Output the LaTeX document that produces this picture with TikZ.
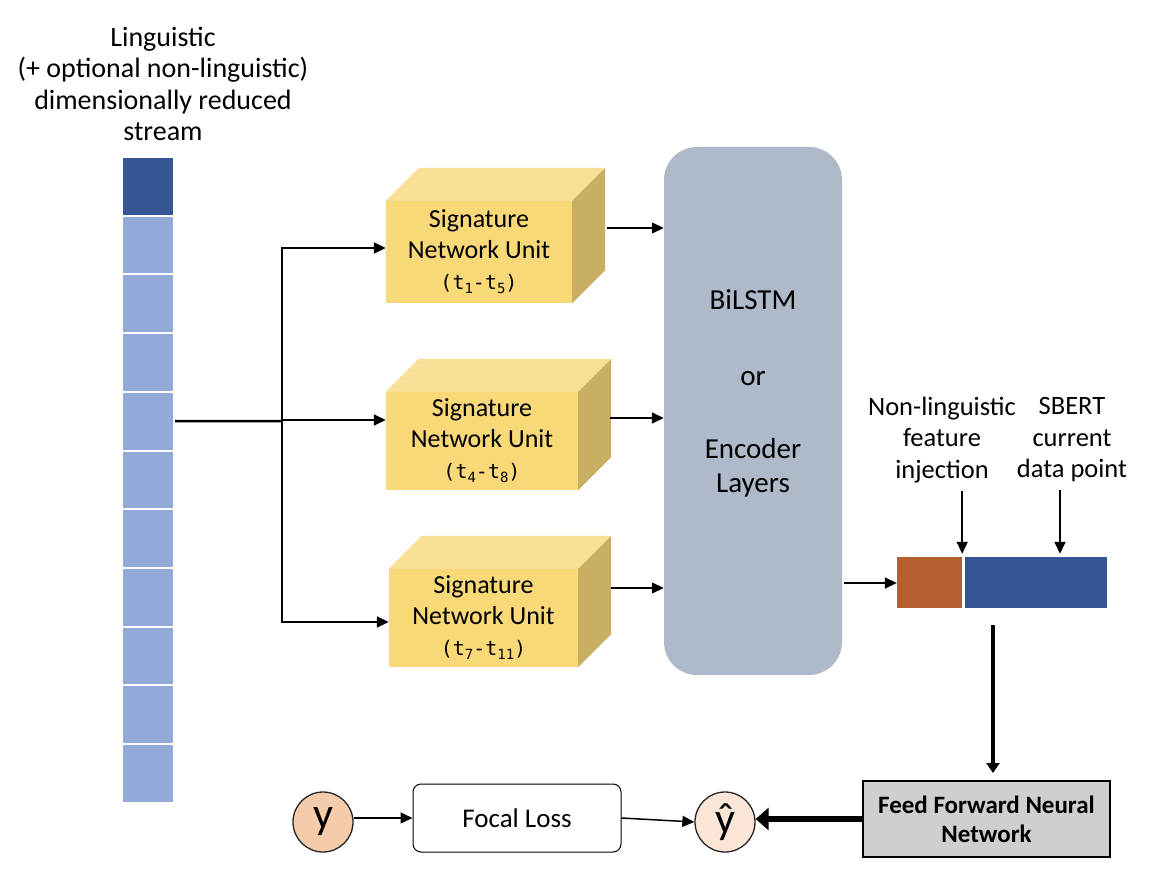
\documentclass[tikz,border=0pt]{standalone}
\usepackage{fontspec}
\setmainfont{Carlito}
\newfontfamily\monof{DejaVu Sans Mono}
\usetikzlibrary{arrows.meta}
\definecolor{celldark}{HTML}{375592}
\definecolor{celllight}{HTML}{94ABD9}
\definecolor{cubefront}{HTML}{F9D878}
\definecolor{cubetop}{HTML}{F9E097}
\definecolor{cubeside}{HTML}{C9AF62}
\definecolor{bilstm}{HTML}{AEB9CA}
\definecolor{nlorange}{HTML}{B65F2E}
\definecolor{sbblue}{HTML}{375592}
\definecolor{ycol}{HTML}{F6CBAA}
\definecolor{yhcol}{HTML}{FBE5D6}
\definecolor{ffgray}{HTML}{D0CECE}
\newcommand\fs[2]{\fontsize{#1}{#2}\selectfont}
\newcommand\subd[1]{\raisebox{-4pt}{\fs{14}{14}#1}}
\newcommand\tr[2]{{\monof\fs{20}{31}(t\subd{#1}-t\subd{#2})}}
\newcommand\cubefaces[1]{%
  \fill[cubetop] (#1.north west) -- ++(33,-33) -- ([shift={(33,-33)}]#1.north east) -- (#1.north east) -- cycle;
  \fill[cubeside] (#1.north east) -- ++(33,-33) -- ([shift={(33,-33)}]#1.south east) -- (#1.south east) -- cycle;}
\begin{document}
\begin{tikzpicture}[x=1pt,y=-1pt,
  cell/.style={minimum width=50pt, minimum height=56.7pt, inner sep=0pt, draw=none},
  sigbox/.style={fill=cubefront, inner sep=0pt, align=center, font=\fs{26}{31}},
  txt/.style={align=center, inner sep=0pt, font=\fs{26.5}{31.5}},
  arr/.style={-{Triangle[length=12pt,width=11pt]}, line width=1.5pt},
  thkarr/.style={-{Triangle[length=10pt,width=13pt]}, line width=3.5pt},
  bigarr/.style={-{Triangle[length=13pt,width=22pt]}, line width=6pt},
  circ/.style={circle, draw=black!85, line width=1.3pt, minimum size=60pt, inner sep=0pt, font=\fs{44}{44}}
]
\useasboundingbox[fill=white] (0,0) rectangle (1164,882);

% title
\node[txt, font=\fs{28}{31.5}] (title) at (163,84) {Linguistic\\(+ optional non-linguistic)\\dimensionally reduced\\stream};

% stream cells
\foreach \i in {1,...,11}{
  \pgfmathsetmacro\cy{158+(\i-1)*58.7+28.35}
  \ifnum\i=1
    \node[cell, fill=celldark] (s\i) at (148,\cy) {};
  \else
    \node[cell, fill=celllight] (s\i) at (148,\cy) {};
  \fi
}

% signature cubes
\node[sigbox, minimum width=186pt, minimum height=102pt] (sig1) at (479,252)
  {Signature\\Network Unit\\\tr{1}{5}};
\cubefaces{sig1}
\node[sigbox, minimum width=192pt, minimum height=98pt] (sig2) at (482,441)
  {Signature\\Network Unit\\\tr{4}{8}};
\cubefaces{sig2}
\node[sigbox, minimum width=189pt, minimum height=98pt] (sig3) at (483.5,618)
  {Signature\\Network Unit\\\tr{7}{11}};
\cubefaces{sig3}

% branching
\coordinate (br) at (282,421);
\draw[line width=2.5pt, shorten <=2pt] (s5.east) -- (br);
\draw[arr, line width=1.8pt] (br) |- ([yshift=4pt]sig1.west);
\draw[arr] (br) |- ([yshift=21pt]sig2.west);
\draw[arr, line width=1.8pt] (br) |- ([yshift=-4pt]sig3.west);

% BiLSTM
\node[fill=bilstm, rounded corners=33pt, minimum width=178pt, minimum height=528pt, inner sep=0pt] (bil) at (753,411) {};
\node[align=center, inner sep=0pt, font=\fs{29}{34}] (biltext) at (753,393) {BiLSTM\\[42pt]or\\[39pt]Encoder\\Layers};

\coordinate (o1) at ([shift={(35,-24)}]sig1.east);
\coordinate (o2) at ([shift={(32,-23)}]sig2.east);
\coordinate (o3) at ([shift={(33,-30)}]sig3.east);
\draw[arr] (o1) -- (o1 -| bil.west);
\draw[arr] (o2) -- (o2 -| bil.west);
\draw[arr] (o3) -- (o3 -| bil.west);

% output vector
\node[fill=nlorange, minimum width=65pt, minimum height=51pt, inner sep=0pt] (nl) at (929.5,582.5) {};
\node[fill=sbblue, minimum width=142pt, minimum height=51pt, inner sep=0pt] (sb) at (1036,582.5) {};
\coordinate (bo) at (844,583);
\draw[arr] (bo) -- (bo -| nl.west);

\node[txt] (nlt) at (942,440) {Non-linguistic\\feature\\injection};
\node[txt] (sbt) at (1072,440) {SBERT\\current\\data point};
\draw[arr, shorten >=3pt] ([yshift=-8pt]nlt.south -| nl.east) -- (nl.north east);
\draw[arr, shorten >=3pt] ([shift={(-12,8)}]sbt.south) -- ([xshift=-12pt]sbt.south |- sb.north);

% FFNN
\node[fill=ffgray, draw=black, line width=2pt, minimum width=247pt, minimum height=76pt, inner sep=0pt, align=center, font=\bfseries\fs{25}{29}] (ff) at (986.5,819) {Feed Forward Neural\\Network};
\coordinate (fd) at (993,625);
\draw[thkarr, shorten >=7pt] (fd) -- (fd |- ff.north);

% bottom row
\node[circ, fill=ycol] (y) at (323,822) {y};
\node[draw=black, line width=1pt, rounded corners=8pt, minimum width=208pt, minimum height=68pt, inner sep=0pt, font=\fs{27}{30}] (focal) at (517,818) {Focal Loss};
\node[circ, fill=yhcol] (yh) at (725,822) {ŷ};
\draw[arr] (y.east |- focal.west) -- (focal.west);
\draw[arr] (focal.east) -- (yh.west);
\draw[bigarr] (ff.west) -- (ff.west -| yh.east);
\end{tikzpicture}
\end{document}
